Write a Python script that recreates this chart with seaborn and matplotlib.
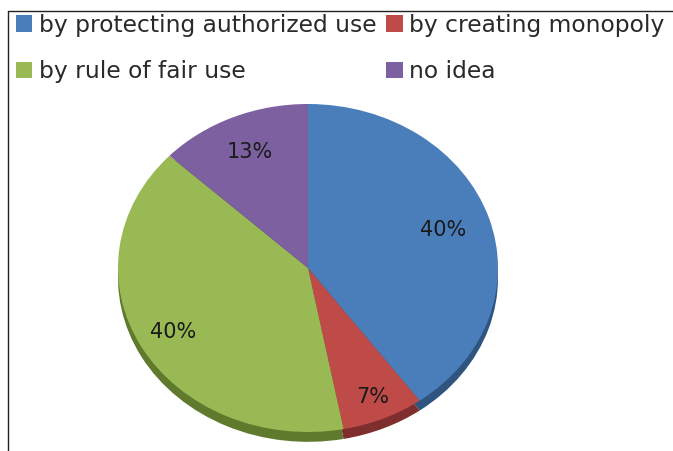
import numpy as np
import matplotlib
matplotlib.use("Agg")
import matplotlib.pyplot as plt
from matplotlib.lines import Line2D
import seaborn as sns

# Survey answers and their shares (percent)
categories = ["by protecting authorized use", "by creating monopoly",
              "by rule of fair use", "no idea"]
shares = [40, 7, 40, 13]
slice_colors = ["#4a7ebb", "#be4b48", "#98b954", "#7d60a0"]
side_colors = ["#2f5480", "#7e2e2c", "#5f7a2c", "#4f3b68"]

sns.set_theme(style="white")
plt.rcParams["font.family"] = ["DejaVu Sans"]

fig = plt.figure(figsize=(6.73, 4.51), dpi=100)
W, H = 673, 451

# pie area: an ellipse to mimic the tilted 3-D look
cx, cy, rx, ry = 308, 268, 190, 164
ax = fig.add_axes([(cx - rx) / W, (H - cy - ry) / H, 2 * rx / W, 2 * ry / H])

palette = sns.color_palette(slice_colors)
side = sns.color_palette(side_colors)
flat = dict(linewidth=0, edgecolor="none")

# darker copy shifted downward gives the rim thickness
ax.pie(shares, colors=side, startangle=90, counterclock=False,
       center=(0, -0.06), radius=1.0, frame=False, wedgeprops=flat)
wedges, texts, autotexts = ax.pie(
    shares, colors=palette, startangle=90, counterclock=False,
    autopct="%d%%", pctdistance=0.8, radius=1.0, frame=False,
    wedgeprops=flat, textprops=dict(fontsize=15, color="#1a1a1a"))

# place the percentage labels along each wedge's mid-angle
label_dist = [0.75, 0.86, 0.81, 0.77]
for w, t, d in zip(wedges, autotexts, label_dist):
    ang = np.deg2rad((w.theta1 + w.theta2) / 2)
    t.set_position((d * np.cos(ang), d * np.sin(ang)))

ax.set_aspect("auto")
ax.set_xlim(-1, 1)
ax.set_ylim(-1, 1)
ax.axis("off")

# legend: two rows, two columns
order = [0, 2, 1, 3]
leg = fig.legend([wedges[i] for i in order], [categories[i] for i in order],
                 ncol=2, loc="upper left", bbox_to_anchor=(11 / W, 1 - 9 / H),
                 frameon=False, fontsize=16.8, handlelength=0.72,
                 handleheight=0.68, handletextpad=0.27, columnspacing=0.4,
                 labelspacing=1.0, borderaxespad=0, borderpad=0.2)
for t in leg.get_texts():
    t.set_color("#2a2a2a")

# chart border (top and left edges)
fig.add_artist(Line2D([7.5 / W, 7.5 / W], [0, 1 - 10.5 / H],
                      transform=fig.transFigure, color="#222222", lw=1.0))
fig.add_artist(Line2D([7.5 / W, 1], [1 - 10.5 / H, 1 - 10.5 / H],
                      transform=fig.transFigure, color="#222222", lw=1.0))

fig.savefig("out.png", dpi=100, facecolor="white")
